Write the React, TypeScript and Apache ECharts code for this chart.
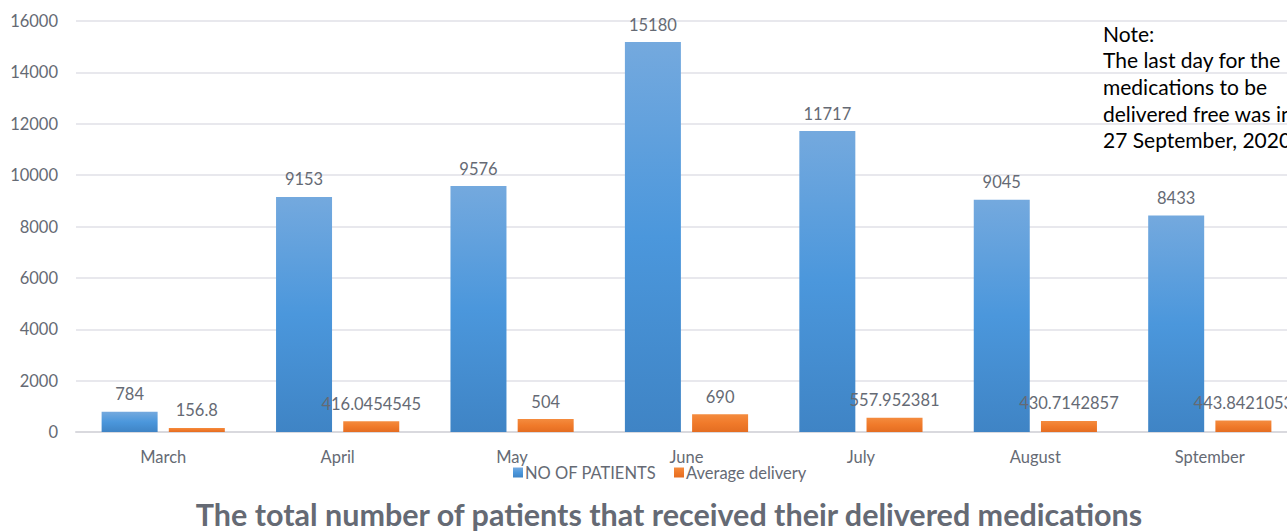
import React, { useEffect, useRef } from "react";
import * as echarts from "echarts";

const categories = ["March", "April", "May", "June", "July", "August", "Sptember"];
const patients = [784, 9153, 9576, 15180, 11717, 9045, 8433];
const avgDelivery = [156.8, 416.0454545, 504, 690, 557.952381, 430.7142857, 443.8421053];
const yTicks = { min: 0, max: 16000, interval: 2000 };
const noteLines = [
  "Note:",
  "The last day for the",
  "medications to be",
  "delivered free was in",
  "27 September, 2020",
];
const chartTitle = "The total number of patients that received their delivered medications";

const FONT = "Lato, 'Noto Sans', sans-serif";
const GRAY = "#656a74";
const FS = 16.5;

export default function App() {
  const ref = useRef<HTMLDivElement>(null);
  useEffect(() => {
    if (!ref.current) return;
    const chart = echarts.init(ref.current, undefined, { renderer: "svg" });
    const blue = new echarts.graphic.LinearGradient(0, 0, 0, 1, [
      { offset: 0, color: "#74a9de" },
      { offset: 0.5, color: "#4b97dc" },
      { offset: 1, color: "#3f84c5" },
    ]);
    const orange = new echarts.graphic.LinearGradient(0, 0, 0, 1, [
      { offset: 0, color: "#f48b3e" },
      { offset: 0.5, color: "#f07a2a" },
      { offset: 1, color: "#e46d22" },
    ]);
    chart.setOption({
      animation: false,
      textStyle: { fontFamily: FONT },
      grid: { left: 76, right: 0, top: 21, bottom: 99, containLabel: false },
      legend: {
        left: 513,
        top: 464,
        padding: 0,
        itemWidth: 10,
        itemHeight: 10,
        itemGap: 18,
        icon: "rect",
        textStyle: { color: GRAY, fontSize: FS, fontFamily: FONT, padding: [0, 0, 0, -3] },
        data: ["NO OF PATIENTS", "Average delivery"],
      },
      xAxis: {
        type: "category",
        data: categories,
        axisLine: { lineStyle: { color: "#d9d9de", width: 2 } },
        axisTick: { show: false },
        axisLabel: { color: GRAY, fontSize: FS, margin: 16, fontFamily: FONT },
      },
      yAxis: {
        type: "value",
        min: yTicks.min,
        max: yTicks.max,
        interval: yTicks.interval,
        axisLine: { show: false },
        axisTick: { show: false },
        splitLine: { lineStyle: { color: "#e1e1e7", width: 1.5 } },
        axisLabel: {
          color: GRAY,
          fontSize: FS,
          margin: 18,
          fontFamily: FONT,
          formatter: (v: number) => String(v),
        },
      },
      series: [
        {
          name: "NO OF PATIENTS",
          type: "bar",
          data: patients,
          barWidth: 56,
          barGap: "20%",
          itemStyle: { color: blue },
          label: {
            show: true,
            position: "top",
            distance: 9,
            color: GRAY,
            fontSize: FS,
            fontFamily: FONT,
          },
        },
        {
          name: "Average delivery",
          type: "bar",
          data: avgDelivery,
          barWidth: 56,
          itemStyle: { color: orange },
          label: {
            show: true,
            position: "top",
            distance: 9,
            color: GRAY,
            fontSize: FS,
            fontFamily: FONT,
          },
          z: 3,
        },
      ],
      graphic: [
        ...noteLines.map((t, i) => ({
          type: "text",
          x: 1103,
          y: 33 + i * 26.7,
          z: 100,
          style: {
            text: t,
            fill: "#000",
            fontSize: 21,
            fontFamily: FONT,
            verticalAlign: "middle",
          },
        })),
        {
          type: "text",
          x: 669,
          y: 514,
          style: {
            text: chartTitle,
            fill: GRAY,
            fontSize: 30.5,
            fontWeight: "bold",
            fontFamily: FONT,
            align: "center",
            verticalAlign: "middle",
          },
        },
      ],
    });
    return () => chart.dispose();
  }, []);
  return (
    <div
      style={{
        position: "fixed",
        left: 0,
        top: 0,
        width: 1287,
        height: 531,
        overflow: "hidden",
        background: "#fff",
      }}
    >
      <div ref={ref} style={{ width: 1297, height: 531 }} />
    </div>
  );
}
